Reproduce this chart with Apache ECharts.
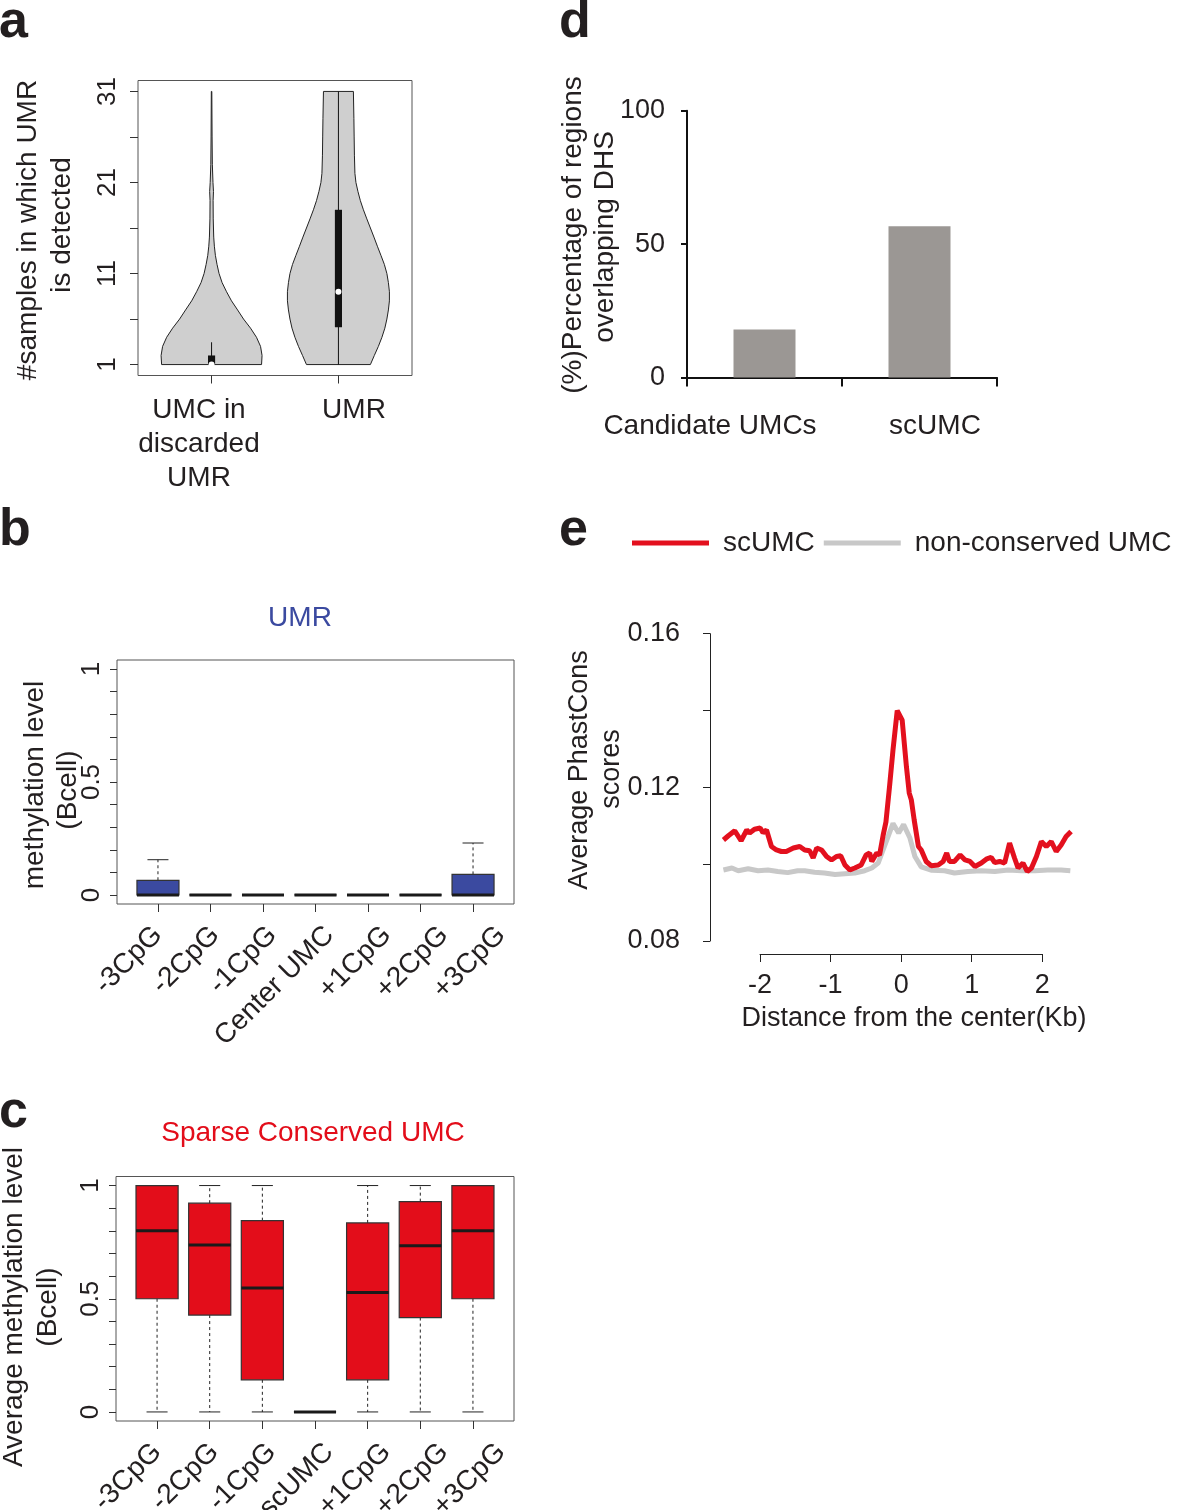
<!DOCTYPE html>
<html><head><meta charset="utf-8">
<script src="https://cdn.jsdelivr.net/npm/echarts@6/dist/echarts.min.js"></script>
<style>html,body{margin:0;padding:0;background:#fff;}#c{width:1179px;height:1510px;}</style>
</head><body><div id="c"></div>
<script>
// ---------- Panel a: violins ----------
const aCategories = ['UMC in\ndiscarded\nUMR', 'UMR'];
const aPositions = [1, 2];
const aYTicks = [1, 6, 11, 16, 21, 26, 31];
const aYLabels = [1, 11, 21, 31];
const violin1Level = [1,2,3,4,5,6,7,8,9,10,11,12,13,14,15,17,19,20,21,23,26,31];
const violin1HalfWidth = [0.394,0.398,0.386,0.354,0.307,0.252,0.205,0.157,0.118,0.083,0.059,0.043,0.030,0.022,0.017,0.013,0.012,0.015,0.011,0.006,0.004,0.002];
const violin2Level = [1,2,3,4,5,6,7,8,9,10,11,12,13,14,15,16,17,18,19,20,21,22,24,26,28,31];
const violin2HalfWidth = [0.252,0.283,0.315,0.343,0.366,0.382,0.394,0.402,0.402,0.394,0.382,0.362,0.335,0.307,0.280,0.252,0.224,0.197,0.173,0.154,0.138,0.130,0.126,0.124,0.122,0.118];
const violinLow = [1, 1];
const violinQ1 = [1, 5.1];
const violinMedian = [1, 9];
const violinQ3 = [2.0, 18];
const violinHigh = [3.45, 31];

// ---------- Panel b: UMR boxplots ----------
const bCategories = ['-3CpG','-2CpG','-1CpG','Center UMC','+1CpG','+2CpG','+3CpG'];
const bMin = [0,0,0,0,0,0,0];
const bQ1 = [0,0,0,0,0,0,0];
const bMedian = [0,0,0,0,0,0,0];
const bQ3 = [0.065,0,0,0,0,0,0.091];
const bMax = [0.156,0,0,0,0,0,0.23];

// ---------- Panel c: Sparse Conserved UMC boxplots ----------
const cCategories = ['-3CpG','-2CpG','-1CpG','scUMC','+1CpG','+2CpG','+3CpG'];
const cMin = [0,0,0,0,0,0,0];
const cQ1 = [0.5,0.428,0.142,0,0.142,0.417,0.5];
const cMedian = [0.80,0.737,0.547,0,0.528,0.734,0.80];
const cQ3 = [1,0.922,0.845,0,0.835,0.929,1];
const cMax = [1,1,1,0,1,1,1];
const boxYTicks = [0,0.1,0.2,0.3,0.4,0.5,0.6,0.7,0.8,0.9,1];
const boxYLabels = [0,0.5,1];

// ---------- Panel d: bars ----------
const dCategories = ['Candidate UMCs','scUMC'];
const dValues = [18, 56.7];

// ---------- Panel e: PhastCons profiles ----------
const eXTicks = [-2,-1,0,1,2];
const eYLabels = [0.08,0.12,0.16];
const eRedX = [-2.51,-2.44,-2.35,-2.26,-2.18,-2.14,-2.07,-1.99,-1.95,-1.90,-1.83,-1.76,-1.69,-1.62,-1.52,-1.43,-1.36,-1.29,-1.24,-1.19,-1.12,-1.05,-0.98,-0.91,-0.85,-0.79,-0.72,-0.65,-0.56,-0.49,-0.44,-0.41,-0.34,-0.30,-0.25,-0.21,-0.16,-0.11,-0.05,0.02,0.08,0.12,0.15,0.19,0.25,0.29,0.36,0.43,0.53,0.60,0.65,0.69,0.76,0.84,0.91,0.98,1.05,1.14,1.21,1.28,1.33,1.40,1.47,1.54,1.61,1.66,1.73,1.79,1.85,1.92,1.99,2.06,2.13,2.20,2.27,2.34,2.41];
const eRedY = [0.1063,0.1074,0.1087,0.1061,0.1089,0.1081,0.1091,0.1094,0.1082,0.1089,0.1046,0.1037,0.1033,0.1033,0.1042,0.1046,0.1037,0.1035,0.1016,0.1042,0.1037,0.1020,0.1011,0.1020,0.1022,0.0998,0.0985,0.0990,0.0998,0.1024,0.1029,0.1007,0.1029,0.1024,0.1075,0.1110,0.1200,0.1297,0.1400,0.1375,0.1254,0.1185,0.1167,0.1115,0.1046,0.1037,0.1007,0.0996,0.0998,0.1007,0.1029,0.1007,0.1007,0.1024,0.1011,0.1007,0.0994,0.1003,0.1013,0.1018,0.1004,0.1007,0.1003,0.1055,0.1016,0.0990,0.1003,0.0981,0.0990,0.1020,0.1059,0.1046,0.1059,0.1033,0.1050,0.1072,0.1085];
const eGrayX = [-2.51,-2.39,-2.30,-2.16,-2.02,-1.88,-1.74,-1.60,-1.46,-1.36,-1.22,-1.08,-0.93,-0.79,-0.65,-0.51,-0.41,-0.32,-0.25,-0.18,-0.11,-0.03,0.04,0.13,0.20,0.29,0.44,0.62,0.76,0.95,1.14,1.33,1.52,1.71,1.90,2.08,2.27,2.40];
const eGrayY = [0.0985,0.0990,0.0983,0.0988,0.0983,0.0985,0.0981,0.0978,0.0983,0.0983,0.0979,0.0977,0.0973,0.0975,0.0977,0.0983,0.0990,0.1003,0.1037,0.1072,0.1106,0.1081,0.1103,0.1068,0.1020,0.0993,0.0984,0.0983,0.0977,0.0981,0.0983,0.0981,0.0985,0.0983,0.0983,0.0985,0.0985,0.0983];

// ---------- helpers ----------
const FONT = 'Liberation Sans, Arial, Helvetica, sans-serif';
const TXT = '#231f20';
const AX = '#333';

const violinLevels = [violin1Level, violin2Level];
const violinWidths = [violin1HalfWidth, violin2HalfWidth];

function violinRender(params, api) {
  const i = params.dataIndex;
  const pos = api.value(0);
  const lv = violinLevels[i], hw = violinWidths[i];
  const pts = [];
  for (let k = 0; k < lv.length; k++) pts.push(api.coord([pos - hw[k], lv[k]]));
  for (let k = lv.length - 1; k >= 0; k--) pts.push(api.coord([pos + hw[k], lv[k]]));
  const bw = 0.028;
  const b0 = api.coord([pos - bw, api.value(2)]);
  const b1 = api.coord([pos + bw, api.value(4)]);
  const wl = api.coord([pos, api.value(1)]);
  const wh = api.coord([pos, api.value(5)]);
  const md = api.coord([pos, api.value(3)]);
  return {
    type: 'group',
    children: [
      { type: 'polygon', shape: { points: pts }, style: { fill: '#cfcfcf', stroke: '#222', lineWidth: 1 } },
      { type: 'line', shape: { x1: wl[0], y1: wl[1], x2: wh[0], y2: wh[1] }, style: { stroke: '#111', lineWidth: 1 } },
      { type: 'rect', shape: { x: b0[0], y: b1[1], width: b1[0] - b0[0], height: b0[1] - b1[1] }, style: { fill: '#111' } },
      { type: 'circle', shape: { cx: md[0], cy: md[1], r: 3 }, style: { fill: '#fff' } }
    ]
  };
}

function boxRender(color) {
  return function (params, api) {
    const x = api.value(0), mn = api.value(1), q1 = api.value(2), med = api.value(3), q3 = api.value(4), mx = api.value(5);
    const hw = 0.4, sw = 0.2;
    const pL = api.coord([x - hw, q1]), pR = api.coord([x + hw, q3]);
    const c = (a, b) => api.coord([a, b]);
    const ch = [];
    const dash = { stroke: '#222', lineWidth: 1, lineDash: [3, 3] };
    const solid = { stroke: '#222', lineWidth: 1 };
    let a = c(x, q3), b = c(x, mx);
    ch.push({ type: 'line', shape: { x1: a[0], y1: a[1], x2: b[0], y2: b[1] }, style: dash });
    a = c(x, q1); b = c(x, mn);
    ch.push({ type: 'line', shape: { x1: a[0], y1: a[1], x2: b[0], y2: b[1] }, style: dash });
    a = c(x - sw, mx); b = c(x + sw, mx);
    ch.push({ type: 'line', shape: { x1: a[0], y1: a[1], x2: b[0], y2: b[1] }, style: solid });
    a = c(x - sw, mn); b = c(x + sw, mn);
    ch.push({ type: 'line', shape: { x1: a[0], y1: a[1], x2: b[0], y2: b[1] }, style: solid });
    ch.push({ type: 'rect', shape: { x: pL[0], y: pR[1], width: pR[0] - pL[0], height: pL[1] - pR[1] }, style: { fill: color, stroke: '#333', lineWidth: 1.2 } });
    a = c(x - hw, med); b = c(x + hw, med);
    ch.push({ type: 'line', shape: { x1: a[0], y1: a[1], x2: b[0], y2: b[1] }, style: { stroke: '#1a1a1a', lineWidth: 3 } });
    return { type: 'group', children: ch };
  };
}

const zip6 = (n, arrs) => Array.from({ length: n }, (_, i) => [i + 1].concat(arrs.map(a => a[i])));

const vData = aPositions.map((p, i) => [p, violinLow[i], violinQ1[i], violinMedian[i], violinQ3[i], violinHigh[i]]);
const bData = zip6(bCategories.length, [bMin, bQ1, bMedian, bQ3, bMax]);
const cData = zip6(cCategories.length, [cMin, cQ1, cMedian, cQ3, cMax]);
const catPos = bCategories.map((_, i) => i + 1);

// tick axis (box positions)
function boxXAxis(grid) {
  return {
    type: 'value', gridIndex: grid, position: 'bottom', min: 0.22, max: 7.78,
    axisLine: { show: false, onZero: false }, splitLine: { show: false },
    axisTick: { show: true, customValues: catPos, length: 8, lineStyle: { color: AX } },
    axisLabel: { show: false }
  };
}
// label axis: in the original the rotated labels are spread slightly wider than the boxes
function boxLabelAxis(grid, cats) {
  return {
    type: 'value', gridIndex: grid, position: 'bottom', min: 0.283, max: 7.223,
    axisLine: { show: false, onZero: false }, splitLine: { show: false }, axisTick: { show: false },
    axisLabel: { show: true, customValues: catPos, rotate: 45, margin: 27, fontSize: 28, fontFamily: FONT, color: TXT,
      formatter: v => cats[Math.round(v) - 1] }
  };
}
function boxYAxis(grid) {
  return {
    type: 'value', gridIndex: grid, min: -0.04, max: 1.04,
    axisLine: { show: false, onZero: false }, splitLine: { show: false },
    axisTick: { show: true, customValues: boxYTicks, length: 7, lineStyle: { color: AX } },
    axisLabel: { show: true, customValues: boxYLabels, rotate: 90, margin: 12, fontSize: 26, fontFamily: FONT, color: TXT,
      formatter: v => String(v) }
  };
}

const txt = (text, x, y, opts = {}) => ({
  type: 'text', x, y, rotation: opts.rot || 0,
  style: { text, fill: opts.color || TXT, font: (opts.weight || 'normal') + ' ' + (opts.size || 28) + 'px ' + FONT,
    textAlign: opts.align || 'center', textVerticalAlign: opts.va || 'middle', align: opts.align || 'center', verticalAlign: opts.va || 'middle',
    lineHeight: opts.lh || undefined }
});
const R90 = Math.PI / 2;
const letter = (t, x, baseline) => txt(t, x, baseline - 40, { size: 52, weight: 'bold', align: 'left', va: 'top' });
const G = { outerBoundsMode: 'none', containLabel: false };

const option = {
  animation: false,
  backgroundColor: '#fff',
  textStyle: { fontFamily: FONT },
  grid: [
    Object.assign({ left: 138, top: 80.5, width: 274, height: 295, show: true, borderColor: '#555', borderWidth: 1, backgroundColor: 'transparent' }, G),
    Object.assign({ left: 687, top: 110.7, width: 310, height: 266.7 }, G),
    Object.assign({ left: 117, top: 660, width: 397, height: 244, show: true, borderColor: '#555', borderWidth: 1, backgroundColor: 'transparent' }, G),
    Object.assign({ left: 116, top: 1176.5, width: 398, height: 244.5, show: true, borderColor: '#555', borderWidth: 1, backgroundColor: 'transparent' }, G),
    Object.assign({ left: 710, top: 633.7, width: 378, height: 307.3 }, G),
    Object.assign({ left: 760, top: 900, width: 282.3, height: 54 }, G)
  ],
  xAxis: [
    { type: 'value', gridIndex: 0, min: 0.42, max: 2.58, axisLine: { show: false, onZero: false }, splitLine: { show: false },
      axisTick: { show: true, customValues: aPositions, length: 8, lineStyle: { color: AX } }, axisLabel: { show: false } },
    { type: 'category', gridIndex: 1, data: dCategories, boundaryGap: true,
      axisLine: { show: true, onZero: false, lineStyle: { color: '#111', width: 2 } },
      axisTick: { show: true, length: 9, lineStyle: { color: '#111', width: 2 } }, axisLabel: { show: false } },
    boxXAxis(2),
    boxXAxis(3),
    { type: 'value', gridIndex: 4, min: -2.7, max: 2.65, show: false, axisLine: { onZero: false } },
    { type: 'value', gridIndex: 5, min: -2, max: 2, interval: 1, splitLine: { show: false },
      axisLine: { show: true, onZero: false, lineStyle: { color: '#222', width: 1 } },
      axisTick: { show: true, length: 8, lineStyle: { color: '#222' } },
      axisLabel: { show: true, margin: 18, fontSize: 27, fontFamily: FONT, color: TXT } },
    boxLabelAxis(2, bCategories),
    boxLabelAxis(3, cCategories)
  ],
  yAxis: [
    { type: 'value', gridIndex: 0, min: -0.2, max: 32.2, axisLine: { show: false, onZero: false }, splitLine: { show: false },
      axisTick: { show: true, customValues: aYTicks, length: 8, lineStyle: { color: AX } },
      axisLabel: { show: true, customValues: aYLabels, rotate: 90, margin: 17, fontSize: 26, fontFamily: FONT, color: TXT } },
    { type: 'value', gridIndex: 1, min: 0, max: 100, interval: 50, splitLine: { show: false },
      axisLine: { show: true, onZero: false, lineStyle: { color: '#111', width: 2 } },
      axisTick: { show: true, length: 6, lineStyle: { color: '#111', width: 2 } },
      axisLabel: { show: true, margin: 22, fontSize: 27, fontFamily: FONT, color: TXT } },
    boxYAxis(2),
    boxYAxis(3),
    { type: 'value', gridIndex: 4, min: 0.08, max: 0.16, interval: 0.02, splitLine: { show: false },
      axisLine: { show: true, onZero: false, lineStyle: { color: '#222', width: 1 } },
      axisTick: { show: true, length: 7, lineStyle: { color: '#222' } },
      axisLabel: { show: true, customValues: eYLabels, margin: 30, fontSize: 27, fontFamily: FONT, color: TXT,
        formatter: v => v.toFixed(2) } },
    { type: 'value', gridIndex: 5, min: 0, max: 1, show: false, axisLine: { onZero: false } }
  ],
  legend: {
    left: 627, top: 524, itemWidth: 77, itemHeight: 5, itemGap: 9, icon: 'rect', padding: 5,
    data: ['scUMC', 'non-conserved UMC'],
    textStyle: { fontSize: 28, fontFamily: FONT, color: TXT, padding: [0, 0, 0, 9] }
  },
  series: [
    { type: 'custom', name: 'violin', xAxisIndex: 0, yAxisIndex: 0, renderItem: violinRender, data: vData, clip: false },
    { type: 'bar', name: 'DHS overlap', xAxisIndex: 1, yAxisIndex: 1, data: dValues, barWidth: 62, itemStyle: { color: '#9b9794' } },
    { type: 'custom', name: 'UMR', xAxisIndex: 2, yAxisIndex: 2, renderItem: boxRender('#3b4aa0'), data: bData, clip: false },
    { type: 'custom', name: 'Sparse Conserved UMC', xAxisIndex: 3, yAxisIndex: 3, renderItem: boxRender('#e30d1a'), data: cData, clip: false },
    { type: 'line', name: 'non-conserved UMC', xAxisIndex: 4, yAxisIndex: 4, showSymbol: false, symbol: 'none',
      data: eGrayX.map((x, i) => [x, eGrayY[i]]), lineStyle: { color: '#c8c8c8', width: 5 }, itemStyle: { color: '#c8c8c8' } },
    { type: 'line', name: 'scUMC', xAxisIndex: 4, yAxisIndex: 4, showSymbol: false, symbol: 'none',
      data: eRedX.map((x, i) => [x, eRedY[i]]), lineStyle: { color: '#e3101e', width: 5 }, itemStyle: { color: '#e3101e' } }
  ],
  graphic: [
    letter('a', -1, 37),
    letter('b', -1, 545),
    letter('c', -1, 1127),
    letter('d', 559, 37),
    letter('e', 559, 545),
    // panel a
    txt('#samples in which UMR', 28, 230, { rot: R90 }),
    txt('is detected', 62, 225, { rot: R90 }),
    txt(aCategories[0], 199, 393, { va: 'top', lh: 34 }),
    txt(aCategories[1], 354, 410),
    // panel b
    txt('UMR', 300, 618, { color: '#3b4aa0' }),
    txt('methylation level', 35, 785, { rot: R90 }),
    txt('(Bcell)', 68, 790, { rot: R90 }),
    // panel c
    txt('Sparse Conserved UMC', 313, 1133, { color: '#e30d1a' }),
    txt('Average methylation level', 14, 1307, { rot: R90 }),
    txt('(Bcell)', 48, 1307, { rot: R90 }),
    // panel d
    txt('(%)Percentage of regions', 573, 235, { rot: R90 }),
    txt('overlapping DHS', 605, 237, { rot: R90 }),
    txt(dCategories[0], 710, 426),
    txt(dCategories[1], 935, 426),
    // panel e
    txt('Average PhastCons', 580, 770, { rot: R90, size: 27 }),
    txt('scores', 612, 769, { rot: R90, size: 27 }),
    txt('Distance from the center(Kb)', 914, 1019, { size: 27 })
  ]
};

const chart = echarts.init(document.getElementById('c'), null, { renderer: 'canvas' });
chart.setOption(option);
</script></body></html>
